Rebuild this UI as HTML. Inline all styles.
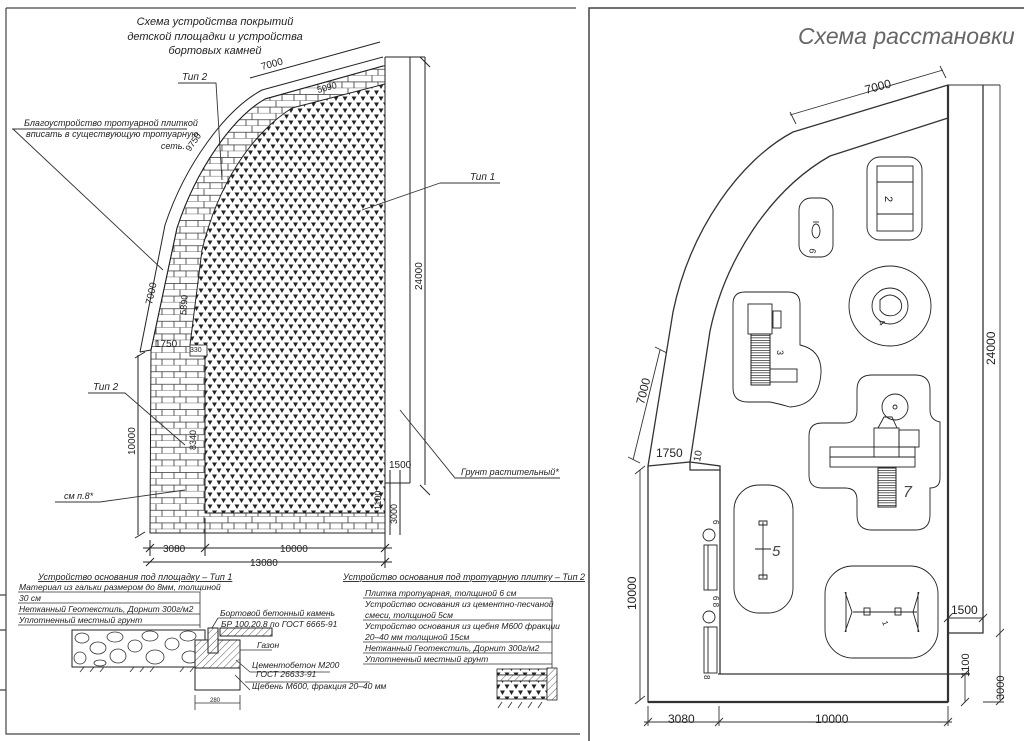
<!DOCTYPE html>
<html><head><meta charset="utf-8"><style>
html,body{margin:0;padding:0;background:#fff;width:1024px;height:741px;overflow:hidden}
svg{display:block}
text{font-family:"Liberation Sans",sans-serif;fill:#222}
.it{font-style:italic}
</style></head><body>
<svg width="1024" height="741" viewBox="0 0 1024 741" xmlns="http://www.w3.org/2000/svg">
<defs>
<pattern id="brick" width="24" height="12.6" patternUnits="userSpaceOnUse">
<rect width="24" height="12.6" fill="#fff"/>
<path d="M0,6.3H24M0,12.6H24M12,0V6.3M6,6.3V12.6M18,6.3V12.6" stroke="#333" stroke-width="0.8" fill="none"/>
</pattern>
<pattern id="tri" width="9" height="12" patternUnits="userSpaceOnUse">
<rect width="9" height="12" fill="#fff"/>
<path d="M0.5,0.5L5.5,0.5L3,5Z M5,6.5L10,6.5L7.5,11Z M-4,6.5L1,6.5L-1.5,11Z" fill="#222"/>
</pattern>
<pattern id="hatch" width="5" height="5" patternUnits="userSpaceOnUse" patternTransform="rotate(45)">
<rect width="5" height="5" fill="#fff"/><path d="M0,0V5" stroke="#333" stroke-width="0.8"/>
</pattern>
<pattern id="dark" width="4" height="2.5" patternUnits="userSpaceOnUse">
<rect width="4" height="2.5" fill="#fff"/><path d="M0,0H4" stroke="#222" stroke-width="1.4"/>
</pattern>
</defs>

<!-- ========== LEFT PANEL ========== -->
<g fill="none" stroke="#444" stroke-width="1.2">
<path d="M6,8H576"/>
<path d="M6,8V734H580"/>
<path d="M0,595H6M0,630H6M0,690H6"/>
</g>
<text class="it" x="215" y="25" font-size="11" text-anchor="middle">Схема устройства покрытий</text>
<text class="it" x="215" y="40" font-size="11" text-anchor="middle">детской площадки и устройства</text>
<text class="it" x="215" y="54" font-size="11" text-anchor="middle">бортовых камней</text>

<path d="M383,66 L265,99 C232,118 196,170 177,228 L151,350 L150,533 L385,533 L385,66Z" fill="url(#brick)" stroke="#222" stroke-width="1"/>
<path d="M385,84 L292,108 C250,135 218,185 202,250 L190,345 L205,356 L205,513 L385,513Z" fill="url(#tri)" stroke="#222" stroke-width="1"/>
<rect x="190" y="345" width="17" height="11" fill="#fff" stroke="#222" stroke-width="0.8"/>
<g fill="none" stroke="#222" stroke-width="1">
<path d="M383,57 L262,90 C225,110 185,165 165,225 L140,352"/>
<path d="M383,66 L265,99 C232,118 196,170 177,228 L151,350"/>
<path d="M140,352 L151,350"/>
<path d="M385,57 V533 M410,57V483 M425,57V485 M385,57H425 M385,483H410"/>
<path d="M250,78 L380,42 M420,57 L430,67 M420,485 L430,495"/>
<path d="M138,355 V535 M135,358L145,352 M135,538L145,532"/>
<path d="M150,540V556 M205,518V556 M385,518V568 M143,548H392 M143,562H392 M146,552L154,544 M201,552L209,544 M381,552L389,544 M146,566L154,558 M381,566L389,558"/>
<path d="M385,497V535 M390,470V535 M400,470V535"/>
</g>
<text x="262" y="70" font-size="10" transform="rotate(-15 262 70)">7000</text>
<text x="318" y="93" font-size="9" transform="rotate(-15 318 93)">5090</text>
<text x="190" y="152" font-size="9" transform="rotate(-55 190 152)">9750</text>
<text x="152" y="305" font-size="10" transform="rotate(-78 152 305)">7000</text>
<text x="186" y="315" font-size="9" transform="rotate(-85 186 315)">5890</text>
<text x="155" y="347" font-size="10">1750</text>
<text x="190" y="352" font-size="7">330</text>
<text x="196" y="450" font-size="9" transform="rotate(-90 196 450)">8340</text>
<text x="135" y="455" font-size="10" transform="rotate(-90 135 455)">10000</text>
<text x="422" y="290" font-size="10" transform="rotate(-90 422 290)">24000</text>
<text x="389" y="468" font-size="10">1500</text>
<text x="381" y="510" font-size="9" transform="rotate(-90 381 510)">1100</text>
<text x="397" y="524" font-size="9" transform="rotate(-90 397 524)">3000</text>
<text x="163" y="552" font-size="10">3080</text>
<text x="280" y="552" font-size="10">10000</text>
<text x="250" y="566" font-size="10">13080</text>

<g fill="none" stroke="#333" stroke-width="0.9">
<path d="M178,83H216L222,180"/>
<path d="M12,129H187 M13,129L163,270"/>
<path d="M440,183H500 M440,183L362,210"/>
<path d="M88,393H125L185,445"/>
<path d="M55,502H100L185,490"/>
<path d="M400,410L455,478H560"/>
</g>
<text class="it" x="182" y="80" font-size="10">Тип 2</text>
<text class="it" x="24" y="126" font-size="9">Благоустройство тротуарной плиткой</text>
<text class="it" x="26" y="137" font-size="9">вписать в существующую тротуарную</text>
<text class="it" x="185" y="149" font-size="9" text-anchor="end">сеть.</text>
<text class="it" x="470" y="180" font-size="10">Тип 1</text>
<text class="it" x="93" y="390" font-size="10">Тип 2</text>
<text class="it" x="64" y="499" font-size="9">см п.8*</text>
<text class="it" x="461" y="475" font-size="9">Грунт растительный*</text>

<text class="it" x="38" y="580" font-size="9" text-decoration="underline">Устройство основания под площадку – Тип 1</text>
<g font-size="8.5">
<text class="it" x="19" y="590">Материал из гальки размером до 8мм, толщиной</text>
<text class="it" x="19" y="601">30 см</text>
<text class="it" x="19" y="612">Нетканный Геотекстиль, Дорнит 300г/м2</text>
<text class="it" x="19" y="623">Уплотненный местный грунт</text>
</g>
<g fill="none" stroke="#333" stroke-width="0.8">
<path d="M18,592H200 M18,603H200 M18,614H200 M18,625H200 M200,592V628"/>
</g>
<rect x="72" y="630" width="133" height="37" fill="#fff" stroke="#222"/>
<g fill="none" stroke="#333" stroke-width="0.8">
<ellipse cx="82" cy="638" rx="7" ry="5"/><ellipse cx="98" cy="648" rx="8" ry="6"/><ellipse cx="80" cy="658" rx="6" ry="6"/><ellipse cx="115" cy="637" rx="8" ry="5"/><ellipse cx="118" cy="656" rx="8" ry="7"/><ellipse cx="135" cy="646" rx="7" ry="6"/><ellipse cx="150" cy="636" rx="8" ry="5"/><ellipse cx="155" cy="657" rx="9" ry="7"/><ellipse cx="172" cy="644" rx="7" ry="6"/><ellipse cx="188" cy="636" rx="8" ry="5"/><ellipse cx="190" cy="657" rx="8" ry="6"/><ellipse cx="100" cy="663" rx="6" ry="3"/>
<path d="M80,672l4,-5M90,672l4,-5M100,672l4,-5M130,672l4,-5M140,672l4,-5M150,672l4,-5M180,672l4,-5M190,672l4,-5"/>
</g>
<rect x="195" y="640" width="45" height="28" fill="url(#hatch)" stroke="#222"/>
<rect x="195" y="668" width="45" height="22" fill="#fff" stroke="#222"/>
<rect x="208" y="628" width="10" height="25" fill="url(#hatch)" stroke="#222"/>
<rect x="220" y="628" width="52" height="8" fill="url(#hatch)" stroke="#222"/>
<g fill="none" stroke="#333" stroke-width="0.8"><path d="M218,618H330 M218,618L212,628 M240,644V668 M240,650H272 M250,672H330 M245,682H370 M236,660L250,672 M235,675L250,690 M195,695V710 M240,695V710 M195,703H240"/></g>
<text class="it" x="220" y="616" font-size="8.5">Бортовой бетонный камень</text>
<text class="it" x="221" y="627" font-size="8.5">БР 100.20.8 по ГОСТ 6665-91</text>
<text class="it" x="257" y="648" font-size="8.5">Газон</text>
<text class="it" x="252" y="668" font-size="8.5">Цементобетон М200</text>
<text class="it" x="256" y="677" font-size="8.5">ГОСТ 26633-91</text>
<text class="it" x="252" y="689" font-size="8.5">Щебень М600, фракция 20–40 мм</text>
<text x="210" y="702" font-size="6">280</text>

<text class="it" x="343" y="580" font-size="9" text-decoration="underline">Устройство основания под тротуарную плитку – Тип 2</text>
<g font-size="8.5">
<text class="it" x="365" y="596">Плитка тротуарная, толщиной 6 см</text>
<text class="it" x="365" y="607">Устройство основания из цементно-песчаной</text>
<text class="it" x="365" y="618">смеси, толщиной 5см</text>
<text class="it" x="365" y="629">Устройство основания из щебня М600 фракции</text>
<text class="it" x="365" y="640">20–40 мм толщиной 15см</text>
<text class="it" x="365" y="651">Нетканный Геотекстиль, Дорнит 300г/м2</text>
<text class="it" x="365" y="662">Уплотненный местный грунт</text>
</g>
<g fill="none" stroke="#333" stroke-width="0.8">
<path d="M363,598H552 M363,620H552 M363,642H552 M363,653H552 M363,664H552 M552,598V668"/>
</g>
<rect x="497" y="669" width="50" height="6" fill="url(#tri)" stroke="#222" stroke-width="0.8"/>
<rect x="497" y="675" width="50" height="6" fill="url(#hatch)" stroke="#222" stroke-width="0.8"/>
<rect x="497" y="681" width="50" height="18" fill="url(#tri)" stroke="#222" stroke-width="0.8"/>
<rect x="547" y="668" width="10" height="32" fill="url(#hatch)" stroke="#222" stroke-width="0.8"/>
<path d="M498,708l4,-6M508,708l4,-6M518,708l4,-6M528,708l4,-6M538,708l4,-6" stroke="#333" stroke-width="0.8"/>

<!-- ========== RIGHT PANEL ========== -->
<path d="M589,741V8H1024" fill="none" stroke="#444" stroke-width="1.5"/>
<text x="798" y="44" font-size="23" class="it" style="fill:#666">Схема  расстановки</text>

<g fill="none" stroke="#333" stroke-width="1.3">
<path d="M948,85 L793,132 C740,160 690,230 673,312 L648,466"/>
<path d="M948,118 L830,156 C770,190 725,260 710,331 L690,462"/>
<path d="M648,466 V702 H948 V85 M983,85 V633 H948 M718,674 H970 M720,470 V674"/>
<path d="M648,466 L690,462 L690,470 H720 V466 L690,462"/>
<path d="M1000,85 V700" stroke-width="0.9"/>
<path d="M948,85 H1000" stroke-width="0.9"/>
</g>
<path d="M948,85 V702" stroke="#333" stroke-width="2.2"/>
<path d="M648,702 H948" stroke="#333" stroke-width="2.2"/>
<g fill="none" stroke="#333" stroke-width="0.9">
<path d="M790,115 L943,70 M790,112L796,124 M940,66L946,78"/>
<path d="M633,460 L660,350 M628,457L640,463 M655,347L667,353"/>
<path d="M640,470V700 M635,474L645,466 M635,704L645,696"/>
<path d="M648,706V726 M719,706V726 M948,706V726 M644,722H952 M644,726L652,718 M715,726L723,718 M944,726L952,718"/>
<path d="M948,618H983 M944,622L952,614 M979,622L987,614"/>
<path d="M965,674V702 M961,678L969,670 M961,706L969,698"/>
<path d="M996,637L1004,629 M996,705L1004,697 M983,702H1004"/>
</g>
<text x="866" y="94" font-size="12" transform="rotate(-15 866 94)">7000</text>
<text x="644" y="405" font-size="12" transform="rotate(-76 644 405)">7000</text>
<text x="656" y="457" font-size="12">1750</text>
<text x="700" y="462" font-size="10" transform="rotate(-80 700 462)">10</text>
<text x="636" y="610" font-size="12" transform="rotate(-90 636 610)">10000</text>
<text x="995" y="365" font-size="12" transform="rotate(-90 995 365)">24000</text>
<text x="951" y="614" font-size="12">1500</text>
<text x="969" y="677" font-size="11" transform="rotate(-90 969 677)">1100</text>
<text x="1004" y="700" font-size="11" transform="rotate(-90 1004 700)">3000</text>
<text x="668" y="723" font-size="12">3080</text>
<text x="815" y="723" font-size="12">10000</text>

<g fill="none" stroke="#222" stroke-width="0.9">
<rect x="867" y="157" width="55" height="83" rx="13"/>
<rect x="877" y="166" width="36" height="65"/>
<path d="M877,182H913 M877,214H913"/>
<rect x="799" y="198" width="34" height="59" rx="12"/>
<ellipse cx="816" cy="231" rx="4" ry="7"/>
<path d="M813,222H819"/>
<ellipse cx="890" cy="306" rx="41" ry="40"/>
<circle cx="890" cy="306" r="18"/>
<path d="M880,300 Q890,290 900,300 Q905,310 895,315 Q885,318 880,310 Z"/>
<path d="M745,292 H788 Q800,292 800,304 V345 Q822,350 821,373 Q819,405 790,407 Q780,404 770,402 H748 Q733,402 733,388 V304 Q733,292 745,292Z"/>
<rect x="748" y="304" width="24" height="30"/>
<rect x="770" y="369" width="27" height="13"/>
<rect x="773" y="311" width="8" height="17"/>
<path d="M872,375 H915 Q930,375 930,390 V410 Q930,420 940,422 V478 Q940,488 930,488 V515 Q930,530 915,530 H872 Q857,530 857,515 V500 Q857,488 845,488 H822 Q809,488 809,475 V436 Q809,423 822,423 H845 Q857,423 857,410 V390 Q857,375 872,375Z"/>
<circle cx="895" cy="407" r="13"/>
<circle cx="895" cy="407" r="2"/>
<rect x="874" y="428" width="25" height="29"/>
<path d="M878,428 L884,417 H892 L897,428"/>
<rect x="899" y="430" width="20" height="17"/>
<rect x="830" y="447" width="85" height="10"/>
<rect x="830" y="457" width="85" height="10"/>
<rect x="734" y="485" width="59" height="128" rx="25"/>
<path d="M763,522V578 M755,549H771 M759,521H767V525H759Z M759,575H767V579H759Z"/>
<rect x="825" y="566" width="113" height="92" rx="28"/>
<path d="M853,612H917 M845,592 L852,612 L845,632 M846,592 V632 M919,592 L913,612 L919,632 M918,592 V632"/>
<rect x="864" y="608" width="6" height="7"/><rect x="895" y="608" width="6" height="7"/>
<circle cx="709" cy="535" r="6"/>
<rect x="704" y="545" width="13" height="45"/>
<path d="M708,545V590"/>
<circle cx="709" cy="617" r="6"/>
<rect x="704" y="627" width="13" height="46"/>
<path d="M708,627V673"/>
</g>
<rect x="751" y="334" width="19" height="51" fill="url(#dark)" stroke="#222"/>
<rect x="878" y="468" width="18" height="39" fill="url(#dark)" stroke="#222"/>
<text x="885" y="196" font-size="11" transform="rotate(90 885 196)">2</text>
<text x="810" y="248" font-size="9" transform="rotate(100 810 248)">6</text>
<text x="878" y="322" font-size="9" transform="rotate(60 878 322)">4</text>
<text x="777" y="350" font-size="9" transform="rotate(90 777 350)">3</text>
<text class="it" x="903" y="497" font-size="16" style="fill:#444">7</text>
<text class="it" x="772" y="556" font-size="15" style="fill:#444">5</text>
<text x="882" y="622" font-size="8" transform="rotate(70 882 622)">1</text>
<text x="713" y="520" font-size="8" transform="rotate(90 713 520)">6</text>
<text x="713" y="596" font-size="8" transform="rotate(90 713 596)">6 8</text>
<text x="704" y="675" font-size="8" transform="rotate(90 704 675)">8</text>
</svg>
</body></html>
